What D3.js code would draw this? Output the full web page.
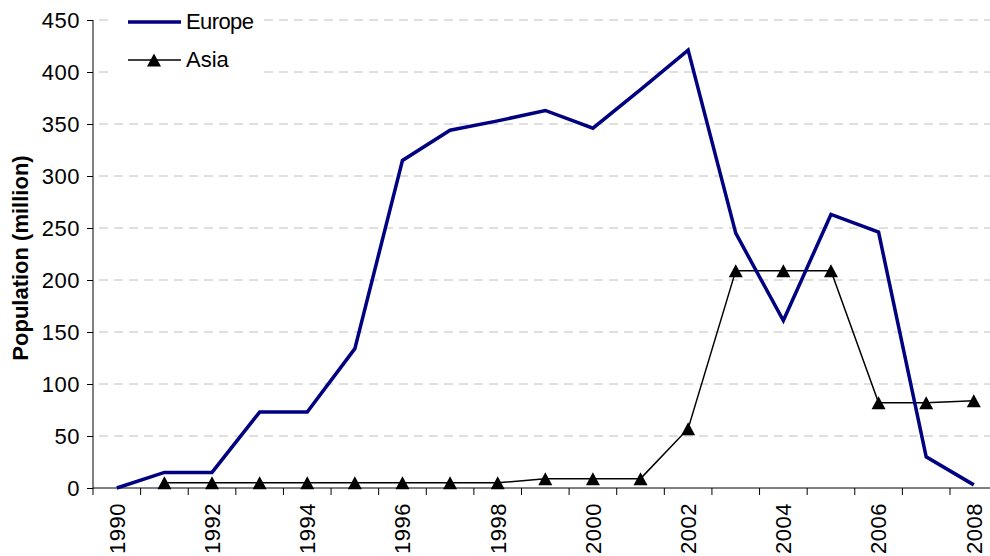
<!doctype html>
<html lang="en">
  <head>
    <meta charset="UTF-8" />
    <title>Population (million)</title>
    <script src="https://d3js.org/d3.v7.min.js"></script>
    <style>
      body {
        margin: 0;
        background: #fff;
      }
      svg text {
        font-family: "Liberation Sans", Arial, sans-serif;
        fill: #000;
      }
    </style>
  </head>
  <body>
    <svg width="990" height="556"></svg>

    <script>
      const years = [
        1990, 1991, 1992, 1993, 1994, 1995, 1996, 1997, 1998, 1999, 2000,
        2001, 2002, 2003, 2004, 2005, 2006, 2007, 2008,
      ];
      const europe = [
        0, 15, 15, 73, 73, 134, 315, 344, 353, 363, 346, 383, 421, 245, 161,
        263, 246, 30, 3,
      ];
      // Asia has no value for 1990
      const asia = [
        null, 5, 5, 5, 5, 5, 5, 5, 5, 9, 9, 9, 57, 209, 209, 209, 82, 82, 84,
      ];
      const yTicks = [0, 50, 100, 150, 200, 250, 300, 350, 400, 450];
      const xLabels = [
        1990, 1992, 1994, 1996, 1998, 2000, 2002, 2004, 2006, 2008,
      ];

      const svg = d3.select("svg");
      const plotLeft = 93,
        plotRight = 997.6,
        plotTop = 20,
        plotBottom = 488;

      const x = d3
        .scaleBand()
        .domain(years)
        .range([plotLeft, plotRight])
        .padding(0);
      const y = d3.scaleLinear().domain([0, 450]).range([plotBottom, plotTop]);
      const cx = (yr) => x(yr) + x.bandwidth() / 2;

      // gridlines
      svg
        .append("g")
        .selectAll("line")
        .data(yTicks.filter((d) => d > 0))
        .enter()
        .append("line")
        .attr("x1", plotLeft + 6)
        .attr("x2", plotRight)
        .attr("y1", (d) => y(d))
        .attr("y2", (d) => y(d))
        .attr("stroke", "#c0c0c0")
        .attr("stroke-width", 1)
        .attr("stroke-dasharray", "9,6");

      // y axis
      const yAxis = svg
        .append("g")
        .attr("transform", `translate(${plotLeft},0)`)
        .call(d3.axisLeft(y).tickValues(yTicks).tickSize(6).tickPadding(7));
      yAxis
        .select(".domain")
        .attr("stroke", "#000")
        .attr("d", `M0,${plotTop}V${plotBottom}`);
      yAxis.selectAll(".tick line").attr("stroke", "#000");
      yAxis
        .selectAll(".tick text")
        .style("font-size", "22px")
        .style("font-family", "'Liberation Sans', Arial, sans-serif")
        .style("letter-spacing", "0.5px")
        .attr("dy", "0.36em");

      // x axis (labels at category centres, ticks between categories)
      const xAxis = svg
        .append("g")
        .attr("transform", `translate(0,${plotBottom})`)
        .call(d3.axisBottom(x).tickValues(xLabels).tickSize(0).tickPadding(0));
      xAxis.select(".domain").remove();
      xAxis
        .selectAll(".tick text")
        .style("font-size", "22px")
        .style("font-family", "'Liberation Sans', Arial, sans-serif")
        .style("letter-spacing", "0.5px")
        .attr("text-anchor", "end")
        .attr("transform", "rotate(-90)")
        .attr("x", -15)
        .attr("y", 0)
        .attr("dy", "0.36em");

      svg
        .append("line")
        .attr("x1", plotLeft)
        .attr("x2", plotRight)
        .attr("y1", plotBottom)
        .attr("y2", plotBottom)
        .attr("stroke", "#000");

      svg
        .append("g")
        .selectAll("line")
        .data(years.concat([null]))
        .enter()
        .append("line")
        .attr("x1", (d) => (d === null ? plotRight : x(d)))
        .attr("x2", (d) => (d === null ? plotRight : x(d)))
        .attr("y1", plotBottom)
        .attr("y2", plotBottom + 7)
        .attr("stroke", "#000");

      // y axis title
      svg
        .append("text")
        .attr(
          "transform",
          `translate(28,${(plotTop + plotBottom) / 2 + 4}) rotate(-90)`,
        )
        .attr("text-anchor", "middle")
        .style("font-size", "22px")
        .style("font-weight", "bold")
        .text("Population (million)");

      // lines
      const line = d3
        .line()
        .defined((d) => d[1] !== null)
        .x((d) => cx(d[0]))
        .y((d) => y(d[1]));

      svg
        .append("path")
        .datum(years.map((yr, i) => [yr, asia[i]]))
        .attr("fill", "none")
        .attr("stroke", "#000")
        .attr("stroke-width", 1.5)
        .attr("d", line);

      const tri = "M0,-6.5L7,6.5L-7,6.5Z";
      svg
        .append("g")
        .selectAll("path")
        .data(
          years.map((yr, i) => [yr, asia[i]]).filter((d) => d[1] !== null),
        )
        .enter()
        .append("path")
        .attr("d", tri)
        .attr("transform", (d) => `translate(${cx(d[0])},${y(d[1])})`)
        .attr("fill", "#000");

      svg
        .append("path")
        .datum(years.map((yr, i) => [yr, europe[i]]))
        .attr("fill", "none")
        .attr("stroke", "#000080")
        .attr("stroke-width", 3.5)
        .attr("d", line);

      // legend
      const legend = svg.append("g");
      legend
        .append("rect")
        .attr("x", 110)
        .attr("y", 4)
        .attr("width", 152)
        .attr("height", 78)
        .attr("fill", "#fff");
      legend
        .append("line")
        .attr("x1", 128)
        .attr("x2", 181)
        .attr("y1", 22)
        .attr("y2", 22)
        .attr("stroke", "#000080")
        .attr("stroke-width", 3.5);
      legend
        .append("text")
        .attr("x", 186)
        .attr("y", 29)
        .style("font-size", "22px")
        .style("letter-spacing", "-0.6px")
        .text("Europe");
      legend
        .append("line")
        .attr("x1", 128)
        .attr("x2", 181)
        .attr("y1", 60)
        .attr("y2", 60)
        .attr("stroke", "#000")
        .attr("stroke-width", 1.5);
      legend
        .append("path")
        .attr("d", tri)
        .attr("transform", "translate(154,60)")
        .attr("fill", "#000");
      legend
        .append("text")
        .attr("x", 186)
        .attr("y", 67)
        .style("font-size", "22px")
        .text("Asia");
    </script>
  </body>
</html>
